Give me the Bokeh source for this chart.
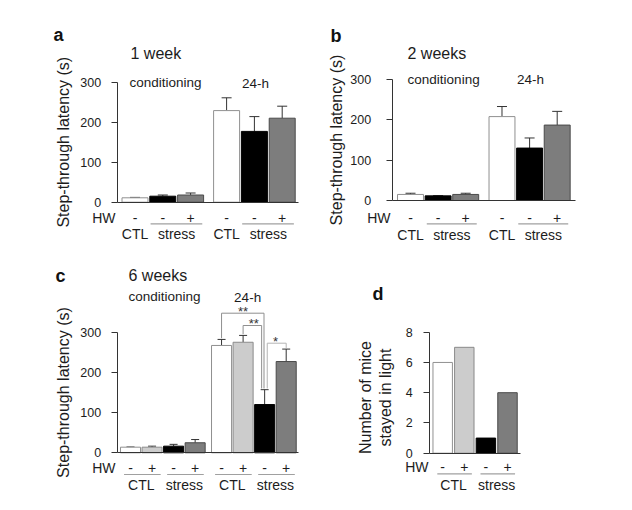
import math
from bokeh.plotting import figure
from bokeh.models import Range1d, FixedTicker, ColumnDataSource, Whisker, TeeHead
from bokeh.layouts import row, column
from bokeh.core.properties import value
from bokeh.embed import file_html
from bokeh.resources import INLINE

# ---------------- data ----------------
sessions = ["conditioning", "24-h"]

a_title = "1 week"
a_groups = ["CTL", "stress", "stress"]
a_hw = ["-", "-", "+"]
a_cond = [11, 15, 18]
a_cond_err = [1, 3, 5]
a_24h = [229, 177, 210]
a_24h_err = [32, 37, 30]

b_title = "2 weeks"
b_groups = ["CTL", "stress", "stress"]
b_hw = ["-", "-", "+"]
b_cond = [15, 11.5, 15]
b_cond_err = [3, 0.5, 3]
b_24h = [208, 130, 187]
b_24h_err = [25, 25, 34]

c_title = "6 weeks"
c_groups = ["CTL", "CTL", "stress", "stress"]
c_hw = ["-", "+", "-", "+"]
c_cond = [14, 14, 16.5, 25]
c_cond_err = [0.5, 2.5, 4.5, 8]
c_24h = [267, 275, 120, 227]
c_24h_err = [15, 17, 37, 31]
c_sig_pairs = [(0, 2), (1, 2), (2, 3)]
c_sig_marks = ["**", "**", "*"]

d_groups = ["CTL", "CTL", "stress", "stress"]
d_hw = ["-", "+", "-", "+"]
d_counts = [6, 7, 1, 4]

latency_ticks = [0, 100, 200, 300]
count_ticks = [0, 2, 4, 6, 8]
latency_label = "Step-through latency (s)"
count_label = ["Number of mice", "stayed in light"]

# ---------------- style / layout ----------------
FONT = "Liberation Sans"
TXT = "#1c1c1c"
AX = "#333333"
ERR = "#333333"
ULINE = "#a0a0a0"
STYLE = {("CTL", "-"): ("#ffffff", "#909090"),
         ("CTL", "+"): ("#cccccc", "#8a8a8a"),
         ("stress", "-"): ("#000000", "#000000"),
         ("stress", "+"): ("#7d7d7d", "#4a4a4a")}

# page geometry of each panel (pixels)
GEOM = {
    "a": dict(box=(0, 0, 315, 254), x0=134.5, pitch=27.8, gap=0.295, y0=201.7, yscale=0.4,
              axis_x=116.7, base_right=298.3, bar_w=0.935, head=10, tick_so=10),
    "b": dict(box=(315, 0, 315, 254), x0=410.0, pitch=27.6, gap=0.315, y0=200.0, yscale=121 / 300,
              axis_x=391.7, base_right=575.0, bar_w=0.94, head=10, tick_so=15),
    "c": dict(box=(0, 254, 315, 254), x0=130.0, pitch=21.55, gap=0.225, y0=452.3, yscale=0.402,
              axis_x=116.7, base_right=298.0, bar_w=0.93, head=8, tick_so=10),
    "d": dict(box=(315, 254, 315, 254), x0=442.2, pitch=21.6, gap=0.0, y0=452.7, yscale=15.125,
              axis_x=429.3, base_right=520.0, bar_w=0.9, head=8, tick_so=11),
}


def make_fig(G):
    ox, oy, w, h = G["box"]
    x0, pitch, y0, ys = G["x0"], G["pitch"], G["y0"], G["yscale"]
    xr = Range1d((ox - x0) / pitch, (ox + w - x0) / pitch)
    yr = Range1d((y0 - (oy + h)) / ys, (y0 - oy) / ys)
    p = figure(width=w, height=h, x_range=xr, y_range=yr, output_backend="svg",
               toolbar_location=None, title=None,
               min_border_left=0, min_border_right=0, min_border_top=0, min_border_bottom=0)
    p.outline_line_color = None
    p.grid.visible = False

    def fx(px):
        return (px - x0) / pitch

    def fy(py):
        return (y0 - py) / ys
    return p, fx, fy


def style_axes(p, G, fx, ticks):
    ax = p.yaxis[0]
    ax.fixed_location = fx(G["axis_x"])
    ax.ticker = FixedTicker(ticks=ticks)
    ax.bounds = (ticks[0], ticks[-1])
    ax.major_label_text_font = FONT
    ax.major_label_text_font_size = "12.5px"
    ax.major_label_text_color = TXT
    ax.major_label_standoff = G["tick_so"]
    ax.major_tick_out = 6
    ax.major_tick_in = 0
    ax.minor_tick_line_color = None
    ax.axis_line_color = AX
    ax.major_tick_line_color = AX
    bx = p.xaxis[0]
    bx.fixed_location = 0
    bx.ticker = FixedTicker(ticks=[])
    bx.bounds = (fx(G["axis_x"]), fx(G["base_right"]))
    bx.axis_line_color = AX
    bx.major_tick_line_color = None
    bx.minor_tick_line_color = None
    bx.major_label_text_color = None


def add_bars(p, xs, tops, errs, groups, hws, G):
    fills = [STYLE[(g, h)][0] for g, h in zip(groups, hws)]
    lines = [STYLE[(g, h)][1] for g, h in zip(groups, hws)]
    data = dict(x=xs, top=tops, fill=fills, line=lines)
    if errs is not None:
        data["upper"] = [t + e for t, e in zip(tops, errs)]
    src = ColumnDataSource(data)
    p.vbar(x="x", top="top", bottom=0, width=G["bar_w"], fill_color="fill",
           line_color="line", line_width=1, source=src)
    if errs is not None:
        p.add_layout(Whisker(source=src, base="x", lower="top", upper="upper",
                             dimension="height", line_color=ERR, line_width=1,
                             lower_head=None,
                             upper_head=TeeHead(size=G["head"], line_color=ERR, line_width=1)))


def runs(groups):
    out, start = [], 0
    for i in range(1, len(groups) + 1):
        if i == len(groups) or groups[i] != groups[start]:
            out.append((groups[start], start, i - 1))
            start = i
    return out


def add_text(p, xs, ys, texts, size="14px", align="center", color=TXT, style="normal", angle=0.0):
    p.text(x=xs, y=ys, text=texts, text_font=value(FONT), text_font_size=size,
           text_font_style=style, text_align=align, text_baseline="middle",
           text_color=color, angle=angle)


def group_rows(p, xpos, groups, hws, y_hw, y_line, y_grp, ul):
    hx, hy, ht, gx, gy, gt, lx, ly = [], [], [], [], [], [], [], []
    for xs in xpos:
        for x, h in zip(xs, hws):
            hx.append(x); hy.append(y_hw); ht.append(h)
        for g, i0, i1 in runs(groups):
            gx.append((xs[i0] + xs[i1]) / 2); gy.append(y_grp); gt.append(g)
            if i1 > i0:
                lx.append([xs[i0] + ul[0], xs[i1] + ul[1]]); ly.append([y_line, y_line])
    add_text(p, hx, hy, ht)
    add_text(p, gx, gy, gt)
    p.multi_line(xs=lx, ys=ly, line_color=ULINE, line_width=1.2)


def session_panel(key, title, groups, hws, cond, cond_err, h24, h24_err, T):
    G = GEOM[key]
    p, fx, fy = make_fig(G)
    style_axes(p, G, fx, latency_ticks)
    n = len(groups)
    xpos = [[si * (n + G["gap"]) + i for i in range(n)] for si in range(len(sessions))]
    add_bars(p, xpos[0], cond, cond_err, groups, hws, G)
    add_bars(p, xpos[1], h24, h24_err, groups, hws, G)
    group_rows(p, xpos, groups, hws, fy(T["hw"]), fy(T["line"]), fy(T["grp"]), T["ul"])
    add_text(p, [sum(xs) / n + dx for xs, dx in zip(xpos, T["sess_dx"])],
             [fy(y) for y in T["sess_y"]], sessions, size="13.5px")
    add_text(p, [fx(T["title"][0])], [fy(T["title"][1])], [title], size="16px", align="left")
    add_text(p, [fx(T["letter"][0])], [fy(T["letter"][1])], [key], size="18px",
             align="left", style="bold", color="#111111")
    add_text(p, [fx(T["hw_x"])], [fy(T["hw"])], ["HW"], align="right")
    add_text(p, [fx(T["ylab"][0])], [fy(T["ylab"][1])], [latency_label], size="16px",
             angle=math.pi / 2)
    return p, xpos, fx, fy


pa, _, _, _ = session_panel(
    "a", a_title, a_groups, a_hw, a_cond, a_cond_err, a_24h, a_24h_err,
    dict(hw=217, line=223.3, grp=233, ul=(-0.44, 0.42), sess_dx=(0.1, 0.04),
         sess_y=(81.7, 83), title=(130, 52.5), letter=(53, 34), hw_x=115, ylab=(63, 141.7)))

pb, _, _, _ = session_panel(
    "b", b_title, b_groups, b_hw, b_cond, b_cond_err, b_24h, b_24h_err,
    dict(hw=217, line=223.3, grp=234, ul=(-0.41, 0.4), sess_dx=(0.2, 0.03),
         sess_y=(79, 79), title=(407, 53), letter=(330, 35), hw_x=390, ylab=(336, 139.5)))

pc, c_xpos, cfx, cfy = session_panel(
    "c", c_title, c_groups, c_hw, c_cond, c_cond_err, c_24h, c_24h_err,
    dict(hw=467.5, line=474, grp=484, ul=(-0.3, 0.4), sess_dx=(0.08, -0.29),
         sess_y=(295.8, 297), title=(128, 275), letter=(55, 275), hw_x=115, ylab=(63, 392)))

# significance brackets in panel c (24-h bars)
c_upper = [t + e for t, e in zip(c_24h, c_24h_err)]
c_levels_px = [312.7, 325.0, 342.7]
c_offsets = [(0.0, -0.03), (0.0, -0.14), (0.12, 0.0)]
c_colors = ["#8f8f8f", "#8f8f8f", "#b4b4b4"]
for (i, j), mark, lev, (oi, oj), col in zip(c_sig_pairs, c_sig_marks, c_levels_px, c_offsets, c_colors):
    xi, xj = c_xpos[1][i] + oi, c_xpos[1][j] + oj
    ly = cfy(lev)
    pc.line(x=[xi, xi, xj, xj], y=[c_upper[i] + 3, ly, ly, c_upper[j] + 3], line_color=col, line_width=1)
    add_text(pc, [(c_xpos[1][i] + c_xpos[1][j]) / 2], [cfy(lev - 2)], [mark], size="13px",
             color="#333333")

# ---- panel d ----
GD = GEOM["d"]
pd, dfx, dfy = make_fig(GD)
style_axes(pd, GD, dfx, count_ticks)
d_x = list(range(len(d_counts)))
add_bars(pd, d_x, d_counts, None, d_groups, d_hw, GD)
group_rows(pd, [d_x], d_groups, d_hw, dfy(466), dfy(473.3), dfy(484.7), (-0.25, 0.35))
add_text(pd, [dfx(428)], [dfy(466)], ["HW"], align="right")
add_text(pd, [dfx(372)], [dfy(293)], ["d"], size="18px", align="left", style="bold", color="#111111")
add_text(pd, [dfx(365), dfx(385)], [dfy(397), dfy(397)], count_label, size="16px", angle=math.pi / 2)

layout = column(row(pa, pb), row(pc, pd))
open("out.html", "w").write(file_html(layout, INLINE))
